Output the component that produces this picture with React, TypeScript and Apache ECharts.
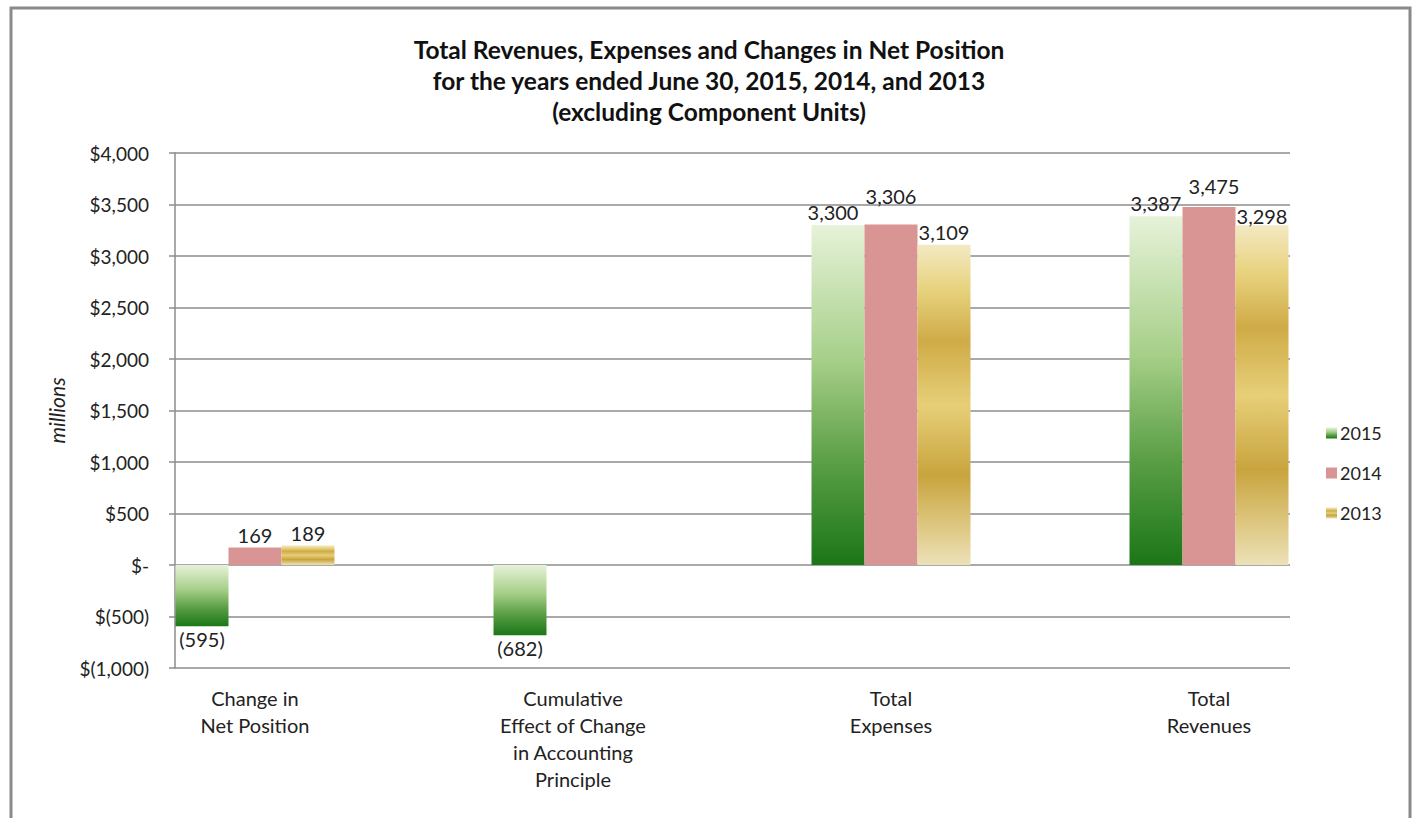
import React, { useEffect, useRef } from 'react';
import * as echarts from 'echarts';

const categories = [
  'Change in\nNet Position',
  'Cumulative\nEffect of Change\nin Accounting\nPrinciple',
  'Total\nExpenses',
  'Total\nRevenues',
];
const seriesNames = ['2015', '2014', '2013'];
const values2015: (number | null)[] = [-595, -682, 3300, 3387];
const values2014: (number | null)[] = [169, null, 3306, 3475];
const values2013: (number | null)[] = [189, null, 3109, 3298];
const yMin = -1000;
const yMax = 4000;
const yInterval = 500;

const FONT = 'Lato, "Open Sans", "DejaVu Sans", sans-serif';

const fmtMoney = (v: number) =>
  v === 0 ? '$-' : v < 0 ? `$(${Math.abs(v).toLocaleString('en-US')})` : `$${v.toLocaleString('en-US')}`;
const fmtLabel = (v: number) => (v < 0 ? `(${Math.abs(v).toLocaleString('en-US')})` : v.toLocaleString('en-US'));

export default function App() {
  const ref = useRef<HTMLDivElement>(null);
  useEffect(() => {
    if (!ref.current) return;
    const chart = echarts.init(ref.current, undefined, { renderer: 'svg' });
    const green = new echarts.graphic.LinearGradient(0, 0, 0, 1, [
      { offset: 0, color: '#e6f2d9' },
      { offset: 0.4, color: '#a6cf88' },
      { offset: 0.7, color: '#5a9e45' },
      { offset: 1, color: '#1b7618' },
    ]);
    const pink = '#d99594';
    const gold = new echarts.graphic.LinearGradient(0, 0, 0, 1, [
      { offset: 0, color: '#f3e9c2' },
      { offset: 0.14, color: '#e8d27e' },
      { offset: 0.3, color: '#cfab47' },
      { offset: 0.5, color: '#e6cf78' },
      { offset: 0.72, color: '#c9a43e' },
      { offset: 0.9, color: '#e0cc8a' },
      { offset: 1, color: '#ece1b8' },
    ]);
    const colors = [green, pink, gold];
    const allValues = [values2015, values2014, values2013];

    // Excel nudged a few overlapping labels; reproduce those nudges here.
    const labelNudge = (seriesIdx: number, dataIdx: number): number[] => {
      if (seriesIdx === 0 && dataIdx === 2) return [-5, 0];
      if (seriesIdx === 1 && dataIdx === 2) return [0, -15];
      if (seriesIdx === 1 && dataIdx === 3) return [5, -8];
      if (seriesIdx === 2 && dataIdx === 3) return [0, 4];
      return [0, 0];
    };

    const mkData = (arr: (number | null)[], si: number) =>
      arr.map((v, di) =>
        v == null
          ? null
          : { value: v, label: { position: v < 0 ? 'bottom' : 'top', offset: labelNudge(si, di) } }
      );

    const series = seriesNames.map((name, i) => ({
      name,
      type: 'bar',
      xAxisIndex: 0,
      yAxisIndex: 0,
      barGap: '0%',
      barCategoryGap: '50%',
      itemStyle: { color: colors[i] },
      data: mkData(allValues[i], i),
      label: {
        show: true,
        distance: 3,
        fontFamily: FONT,
        fontSize: 20,
        color: '#222',
        formatter: (p: any) => fmtLabel(p.value),
      },
    }));

    chart.setOption({
      animation: false,
      backgroundColor: '#fff',
      title: {
        text: 'Total Revenues, Expenses and Changes in Net Position\nfor the years ended June 30, 2015, 2014, and 2013\n(excluding Component Units)',
        left: 'center',
        top: 29,
        textStyle: { fontFamily: FONT, fontWeight: 'bold', fontSize: 24.5, lineHeight: 31, color: '#111' },
      },
      legend: {
        orient: 'vertical',
        left: 1321,
        top: 419,
        itemWidth: 11,
        itemHeight: 11,
        itemGap: 22,
        icon: 'rect',
        data: seriesNames,
        textStyle: { fontFamily: FONT, fontSize: 18, color: '#222', padding: [0, 0, 0, -2] },
      },
      grid: [
        { left: 96, right: 50, top: 153, bottom: 150 },
        { left: 175, right: 128, top: 153, bottom: 150 },
      ],
      xAxis: [
        {
          type: 'category',
          gridIndex: 0,
          data: categories,
          axisLine: { show: false },
          axisTick: { show: false },
          axisLabel: { fontFamily: FONT, fontSize: 20, color: '#222', lineHeight: 27, margin: 16, interval: 0 },
        },
        {
          type: 'category',
          gridIndex: 1,
          data: [''],
          axisLine: { show: false },
          axisTick: { show: false },
          axisLabel: { show: false },
        },
      ],
      yAxis: [
        {
          type: 'value',
          gridIndex: 0,
          min: yMin,
          max: yMax,
          interval: yInterval,
          show: false,
          splitLine: { show: false },
        },
        {
          type: 'value',
          gridIndex: 1,
          min: yMin,
          max: yMax,
          interval: yInterval,
          name: 'millions',
          nameLocation: 'middle',
          nameGap: 108,
          nameTextStyle: { fontFamily: FONT, fontStyle: 'italic', fontSize: 21, color: '#222' },
          axisLine: { show: true, lineStyle: { color: '#8c8c8c', width: 1.5 } },
          axisTick: { show: true, inside: false, length: 6, lineStyle: { color: '#8c8c8c', width: 1.5 } },
          axisLabel: {
            fontFamily: FONT,
            fontSize: 19,
            color: '#222',
            margin: 26,
            formatter: (v: number) => fmtMoney(v),
          },
          splitLine: { show: true, lineStyle: { color: '#8c8c8c', width: 1.5 } },
        },
      ],
      graphic: [
        {
          type: 'rect',
          shape: { x: 11, y: 8, width: 1399, height: 900 },
          style: { fill: 'none', stroke: '#8a8a8a', lineWidth: 3 },
          silent: true,
        },
      ],
      series,
    } as any);
    return () => chart.dispose();
  }, []);
  return (
    <div
      ref={ref}
      style={{ position: 'fixed', left: 0, top: 0, width: 1418, height: 818 }}
    />
  );
}
